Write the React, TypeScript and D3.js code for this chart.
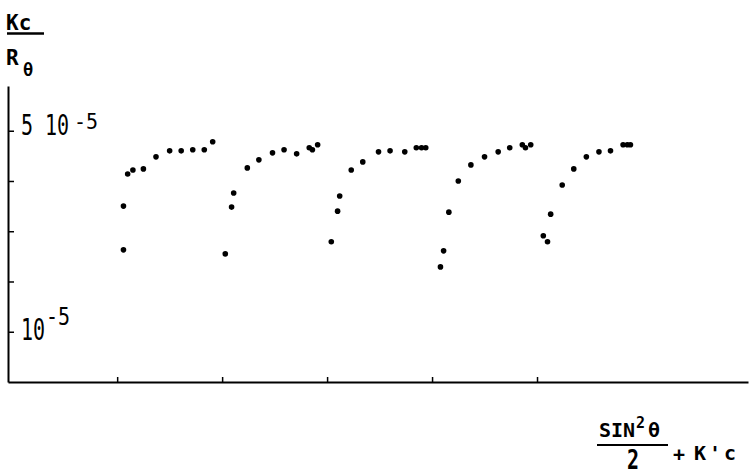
import { axisBottom, axisLeft, scaleLinear, select } from 'd3';
import { useEffect, useRef } from 'react';

// five angle series of a Zimm-type plot: x in plot units, y in units of 1e-5
const xSeries1 = [1.06, 1.06, 1.1, 1.15, 1.25, 1.37, 1.5, 1.61, 1.72, 1.83, 1.91];
const ySeries1 = [2.63, 3.5, 4.14, 4.22, 4.24, 4.48, 4.6, 4.6, 4.62, 4.62, 4.78];
const xSeries2 = [2.03, 2.09, 2.11, 2.24, 2.35, 2.48, 2.59, 2.71, 2.83, 2.86, 2.91];
const ySeries2 = [2.55, 3.48, 3.76, 4.26, 4.42, 4.56, 4.62, 4.54, 4.66, 4.62, 4.72];
const xSeries3 = [3.04, 3.1, 3.12, 3.23, 3.34, 3.49, 3.6, 3.74, 3.85, 3.9, 3.94];
const ySeries3 = [2.79, 3.4, 3.7, 4.22, 4.38, 4.58, 4.6, 4.58, 4.66, 4.66, 4.66];
const xSeries4 = [4.08, 4.11, 4.16, 4.25, 4.37, 4.5, 4.63, 4.74, 4.86, 4.89, 4.94];
const ySeries4 = [2.29, 2.61, 3.38, 4.0, 4.32, 4.48, 4.58, 4.66, 4.72, 4.66, 4.72];
const xSeries5 = [5.06, 5.1, 5.13, 5.24, 5.35, 5.47, 5.59, 5.7, 5.82, 5.86, 5.89];
const ySeries5 = [2.91, 2.79, 3.34, 3.92, 4.24, 4.48, 4.58, 4.6, 4.72, 4.72, 4.72];

const xTicks = [1, 2, 3, 4, 5];
const yTicks = [1, 2, 3, 4, 5];

const MONO = "'DejaVu Sans Mono', monospace";

function App() {
  const svgRef = useRef<SVGSVGElement>(null);

  useEffect(() => {
    const svg = select(svgRef.current);

    const xScale = scaleLinear().domain([-0.04, 7.01]).range([8, 748]);
    const yScale = scaleLinear().domain([0, 5.89]).range([382, 86]);

    const xAxis = axisBottom(xScale)
      .tickValues(xTicks)
      .tickSizeInner(-5)
      .tickSizeOuter(0)
      .tickFormat(() => '');
    const yAxis = axisLeft(yScale)
      .tickValues(yTicks)
      .tickSizeInner(-6)
      .tickSizeOuter(0)
      .tickFormat(() => '');

    svg
      .select('.xAxis_group')
      .attr('transform', 'translate(0,382)')
      .call(xAxis as any);
    svg
      .select('.yAxis_group')
      .attr('transform', 'translate(8,0)')
      .call(yAxis as any);
    svg.selectAll('.domain').attr('stroke', '#000').attr('stroke-width', 2);
    svg.selectAll('.tick line').attr('stroke', '#000').attr('stroke-width', 1.5);

    const points = [
      [xSeries1, ySeries1],
      [xSeries2, ySeries2],
      [xSeries3, ySeries3],
      [xSeries4, ySeries4],
      [xSeries5, ySeries5],
    ].flatMap(([xs, ys]) => xs.map((x, i) => ({ x, y: ys[i] })));

    svg
      .select('.dots')
      .selectAll('circle')
      .data(points)
      .join('circle')
      .attr('cx', d => xScale(d.x))
      .attr('cy', d => yScale(d.y))
      .attr('r', 2.8)
      .attr('fill', '#000');

    // y tick labels for 10^-5 and 5 10^-5
    const yl = svg.select('.ylabels');
    yl.selectAll('*').remove();
    const y5 = yScale(5);
    const y1 = yScale(1);
    const addText = (x: number, y: number, sy: number, size: number, t: string) =>
      yl
        .append('text')
        .attr('transform', `translate(${x},${y}) scale(1,${sy})`)
        .attr('font-family', MONO)
        .attr('font-size', size)
        .attr('fill', '#000')
        .text(t);
    addText(21, y5 + 4, 1.45, 20, '5');
    addText(45, y5 + 4, 1.45, 20, '10');
    addText(74, y5 - 2, 1.05, 20, '-5');
    addText(21, y1 + 8, 1.5, 20, '10');
    addText(46, y1 - 7, 1.2, 20, '-5');
  }, []);

  return (
    <svg
      ref={svgRef}
      width={753}
      height={476}
      style={{ position: 'absolute', left: 0, top: 0, background: '#fff' }}
    >
      <rect width={753} height={476} fill="#fff" />
      <g className="xAxis_group" />
      <g className="yAxis_group" />
      <g className="dots" />
      <g className="ylabels" />

      {/* y title: Kc / R_theta */}
      <text x={6} y={30} fontFamily={MONO} fontWeight="bold" fontSize={21}>
        Kc
      </text>
      <line x1={7} x2={44} y1={33.5} y2={33.5} stroke="#000" strokeWidth={2.5} />
      <text x={6} y={65} fontFamily={MONO} fontWeight="bold" fontSize={21}>
        R
      </text>
      <text x={23} y={76} fontFamily={MONO} fontWeight="bold" fontSize={17}>
        θ
      </text>

      {/* x title: sin^2(theta)/2 + K'c */}
      <text x={599} y={437} fontFamily={MONO} fontWeight="bold" fontSize={20}>
        SIN
      </text>
      <text x={636} y={428} fontFamily={MONO} fontWeight="bold" fontSize={15}>
        2
      </text>
      <text x={648} y={437} fontFamily={MONO} fontWeight="bold" fontSize={20}>
        θ
      </text>
      <line x1={597} x2={668} y1={445} y2={445} stroke="#000" strokeWidth={2} />
      <text
        transform="translate(627,469) scale(1,1.3)"
        fontFamily={MONO}
        fontWeight="bold"
        fontSize={20}
      >
        2
      </text>
      <text x={673} y={461} fontFamily={MONO} fontWeight="bold" fontSize={20}>
        +
      </text>
      <text
        x={694}
        y={460}
        fontFamily={MONO}
        fontWeight="bold"
        fontSize={20}
        letterSpacing={3}
      >
        K'c
      </text>
    </svg>
  );
}

export default App;
